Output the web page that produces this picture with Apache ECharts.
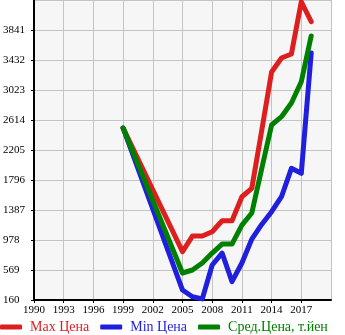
<!DOCTYPE html>
<html><head><meta charset="utf-8">
<script src="https://cdn.jsdelivr.net/npm/echarts@6/dist/echarts.min.js"></script>
<style>html,body{margin:0;padding:0;background:#fff}#c{width:345px;height:335px}</style>
</head><body><div id="c"></div>
<script>
const years = [1999,2005,2006,2007,2008,2009,2010,2011,2012,2013,2014,2015,2016,2017,2018];
const maxPrice = [2505,819,1032,1032,1091,1241,1241,1568,1683,2470,3268,3459,3514,4226,3954];
const minPrice = [2505,296,205,175,637,800,410,664,990,1190,1364,1568,1955,1887,3527];
const avgPrice = [2505,528,569,664,800,923,923,1182,1346,1950,2546,2659,2845,3136,3759];
const seriesNames = ['Max Цена','Min Цена','Сред.Цена, т.йен'];
const colors = ['#dd1f1f','#1f1fdd','#008000'];
const yMin = 160, yStep = 409, yMax = 4250;
const xMin = 1990, xMax = 2020, xStep = 3;

const chart = echarts.init(document.getElementById('c'));
const mk = (arr) => years.map((y,i)=>[y - xMin, arr[i] - yMin]);
const font = '"Liberation Serif", "DejaVu Serif", serif';
const lineSeries = (name, arr, color) => ({
  name, type:'line', data: mk(arr), symbol:'none', smooth:false,
  lineStyle:{width:5, color, cap:'round', join:'round'}, itemStyle:{color}
});
chart.setOption({
  animation:false,
  grid:{left:31, top:0, right:14, bottom:35, show:true, backgroundColor:'#f6f6f6', borderWidth:0},
  xAxis:{type:'value', min:0, max:xMax-xMin, interval:xStep,
    axisLine:{lineStyle:{color:'#000', width:2}},
    axisTick:{show:true, length:3, lineStyle:{color:'#000'}},
    axisLabel:{showMaxLabel:false, formatter:v=>String(v+xMin), color:'#000', fontFamily:font, fontSize:11, margin:5},
    splitLine:{show:true, lineStyle:{color:'#c4c4c4', width:1}}},
  yAxis:{type:'value', min:0, max:yMax-yMin, interval:yStep,
    axisLine:{show:true, lineStyle:{color:'#000', width:2}},
    axisTick:{show:true, length:3, lineStyle:{color:'#000'}},
    axisLabel:{showMaxLabel:false, formatter:v=>String(v+yMin), color:'#000', fontFamily:font, fontSize:11, align:'left', margin:31},
    splitLine:{show:true, lineStyle:{color:'#c4c4c4', width:1}}},
  legend:{left:0, top:320, padding:0, itemGap:11, itemWidth:22, itemHeight:5, icon:'roundRect',
    textStyle:{fontFamily:font, fontSize:14, padding:[0,0,0,3]},
    data: seriesNames.map((n,i)=>({name:n, textStyle:{color:colors[i]}}))},
  series:[
    lineSeries(seriesNames[0], maxPrice, colors[0]),
    lineSeries(seriesNames[1], minPrice, colors[1]),
    lineSeries(seriesNames[2], avgPrice, colors[2])
  ]
});
</script></body></html>
